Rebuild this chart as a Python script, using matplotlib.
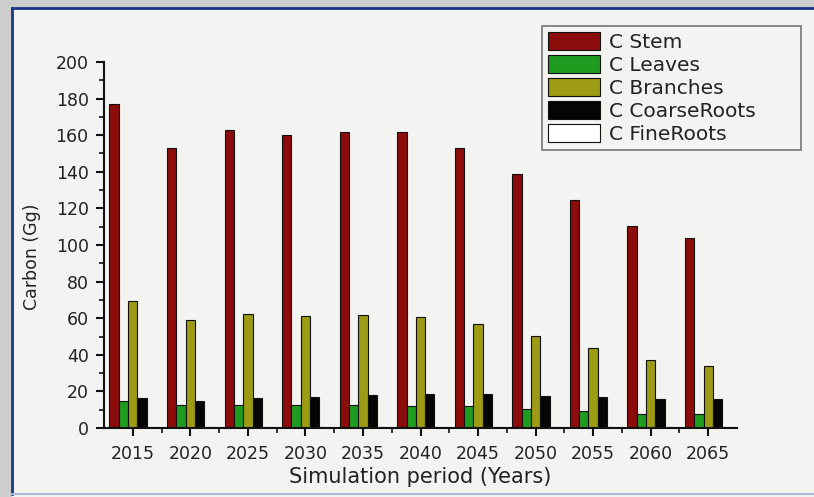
import matplotlib
matplotlib.use("Agg")
import matplotlib.pyplot as plt
import numpy as np
from matplotlib.patches import Rectangle
from matplotlib.lines import Line2D
from matplotlib.ticker import MultipleLocator, FixedLocator

# valeurs (Gg de carbone)
annees = ["2015", "2020", "2025", "2030", "2035", "2040", "2045", "2050", "2055", "2060", "2065"]
c_stem = [177, 153, 163, 160, 162, 162, 153, 139, 124.5, 110.3, 104]
c_leaves = [14.8, 12.6, 12.7, 12.6, 12.6, 12.1, 11.8, 10.6, 9.3, 7.8, 7.6]
c_branches = [69.2, 58.8, 62.3, 61.0, 61.5, 60.8, 56.8, 50.4, 43.6, 37.2, 33.8]
c_coarse = [16.6, 14.8, 16.6, 17.0, 18.2, 18.7, 18.6, 17.6, 16.8, 16.1, 16.1]
c_fine = [0.6, 0.5, 0.5, 0.5, 0.5, 0.5, 0.5, 0.5, 0.5, 0.5, 0.5]

series = [("C Stem", c_stem, "#8c0b0b"),
          ("C Leaves", c_leaves, "#1f9b1f"),
          ("C Branches", c_branches, "#9d9a14"),
          ("C CoarseRoots", c_coarse, "#050505"),
          ("C FineRoots", c_fine, "#ffffff")]

W, H = 814, 497
fig = plt.figure(figsize=(W / 100, H / 100), dpi=100)
fig.patch.set_facecolor("#cdcdcd")

# cadre de l'image
fig.patches.append(Rectangle((12 / W, 0), 1, 1 - 8 / H, transform=fig.transFigure,
                             facecolor="#f3f3f1", edgecolor="none", zorder=-5))
fig.lines.append(Line2D([12 / W, 12 / W], [3 / H, 1 - 8 / H], transform=fig.transFigure,
                        color="#1c3584", lw=2, zorder=-4))
fig.lines.append(Line2D([12 / W, 1], [1 - 8 / H, 1 - 8 / H], transform=fig.transFigure,
                        color="#1c3584", lw=2, zorder=-4))
fig.lines.append(Line2D([12 / W, 1], [3 / H, 3 / H], transform=fig.transFigure,
                        color="#a9bad8", lw=1.5, zorder=-4))

ax = fig.add_axes([104 / W, (H - 428) / H, 633 / W, 366 / H])
ax.set_facecolor("none")
ax.set_zorder(2)

x = np.arange(len(annees))
w = 0.162
for i, (nom, vals, col) in enumerate(series):
    ax.bar(x + (i - 2) * w, vals, width=w, color=col, edgecolor="#111111",
           linewidth=0.8, label=nom)

ax.set_xlim(-0.5, len(annees) - 0.5)
ax.set_ylim(0, 200)
ax.set_xticks(x)
ax.set_xticklabels(annees)
ax.xaxis.set_minor_locator(FixedLocator(x[:-1] + 0.5))
ax.yaxis.set_major_locator(MultipleLocator(20))
ax.yaxis.set_minor_locator(MultipleLocator(10))
for s in ["top", "right"]:
    ax.spines[s].set_visible(False)
for s in ["left", "bottom"]:
    ax.spines[s].set_linewidth(1.5)
    ax.spines[s].set_color("#111111")
ax.tick_params(which="major", direction="out", length=6, width=1.5, labelsize=12.5,
               colors="#111111", pad=5)
ax.tick_params(which="minor", direction="out", length=3.5, width=1.2, colors="#111111")
ax.tick_params(axis="y", labelcolor="#222222")
ax.tick_params(axis="x", labelcolor="#222222", pad=6)

ax.set_ylabel("Carbon (Gg)", fontsize=12.5, color="#222222")
ax.yaxis.set_label_coords(-0.0995, 0.467)
ax.set_xlabel("Simulation period (Years)", fontsize=15, color="#222222")
ax.xaxis.set_label_coords(0.5, -0.107)

leg = ax.legend(loc="upper left", bbox_to_anchor=(542 / W, 1 - 148 / H, 259 / W, 122 / H),
                bbox_transform=fig.transFigure, mode="expand", fontsize=14.5, frameon=True,
                fancybox=False, edgecolor="#555555", facecolor="#f3f3f1",
                handlelength=2.6, handleheight=1.0, handletextpad=0.45,
                labelspacing=0.15, borderpad=0.3, borderaxespad=0)
leg.get_frame().set_linewidth(1.2)
for t in leg.get_texts():
    t.set_color("#222222")

fig.savefig("out.png", dpi=100, facecolor=fig.get_facecolor())
